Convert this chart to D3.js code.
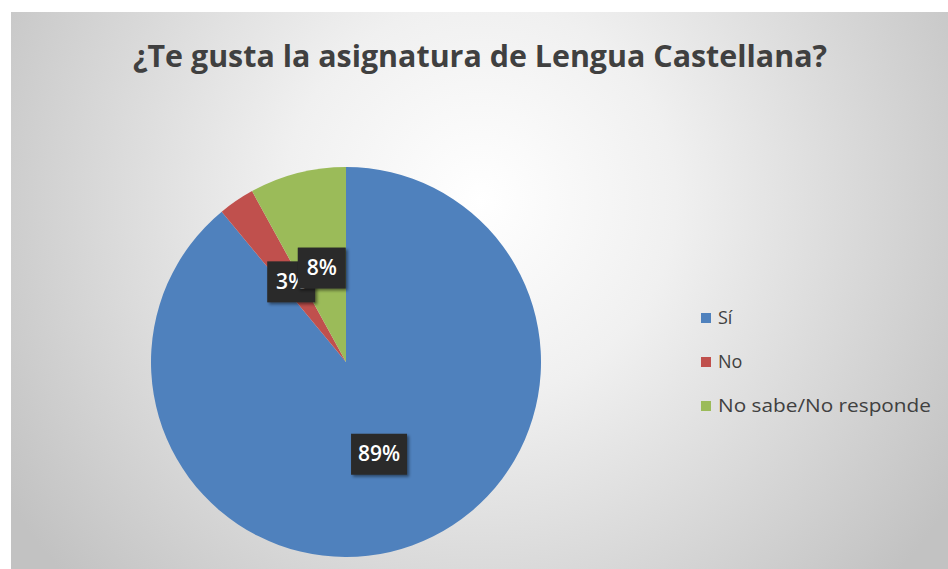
<!DOCTYPE html>
<html>
<head>
<meta charset="utf-8">
<script src="https://cdn.jsdelivr.net/npm/d3@7"></script>
<style>
  body { margin: 0; background: #fff; }
  text { font-family: "Open Sans", "DejaVu Sans", sans-serif; }
</style>
</head>
<body>
<script>
var categories = ["Sí", "No", "No sabe/No responde"];
var values = [89, 3, 8];
var colors = ["#4f81bd", "#c0504d", "#9bbb59"];
var title = "¿Te gusta la asignatura de Lengua Castellana?";

var width = 948, height = 569;
var area = {x: 11, y: 12};
var cx = 346, cy = 362, radius = 195;

var svg = d3.select("body").append("svg")
    .attr("width", width)
    .attr("height", height);

var defs = svg.append("defs");
var grad = defs.append("radialGradient")
    .attr("id", "bg")
    .attr("gradientUnits", "userSpaceOnUse")
    .attr("cx", 480).attr("cy", 200).attr("r", 560);
grad.append("stop").attr("offset", "0%").attr("stop-color", "#ffffff");
grad.append("stop").attr("offset", "35%").attr("stop-color", "#f0f0f0");
grad.append("stop").attr("offset", "100%").attr("stop-color", "#c2c2c2");

var shadow = defs.append("filter").attr("id", "shadow")
    .attr("x", "-30%").attr("y", "-30%").attr("width", "160%").attr("height", "160%");
shadow.append("feDropShadow")
    .attr("dx", 2).attr("dy", 2).attr("stdDeviation", 1.5)
    .attr("flood-color", "#000").attr("flood-opacity", 0.45);

svg.append("rect")
    .attr("x", area.x).attr("y", area.y)
    .attr("width", width - area.x).attr("height", height - area.y)
    .attr("fill", "url(#bg)");

svg.append("text")
    .attr("x", 480).attr("y", 67)
    .attr("text-anchor", "middle")
    .attr("font-size", 30)
    .attr("font-weight", 700)
    .attr("fill", "#404040")
    .attr("textLength", 694)
    .attr("lengthAdjust", "spacingAndGlyphs")
    .text(title);

var data = categories.map(function (c, i) {
    return {name: c, value: values[i], color: colors[i]};
});

var pie = d3.pie().sort(null).value(function (d) { return d.value; });
var arc = d3.arc().innerRadius(0).outerRadius(radius);
var arcs = pie(data);

var g = svg.append("g").attr("transform", "translate(" + cx + "," + cy + ")");

g.selectAll("path.slice")
    .data(arcs)
    .enter().append("path")
    .attr("class", "slice")
    .attr("d", arc)
    .attr("fill", function (d) { return d.data.color; });

var total = d3.sum(values);
var labels = g.selectAll("g.lbl")
    .data(arcs)
    .enter().append("g")
    .attr("class", "lbl")
    .attr("transform", function (d) {
        var c = arc.centroid(d);
        return "translate(" + c[0] + "," + c[1] + ")";
    });

labels.append("rect")
    .attr("x", function (d) { return d.data.value >= 10 ? -28 : -24; })
    .attr("y", -20)
    .attr("width", function (d) { return d.data.value >= 10 ? 56 : 48; })
    .attr("height", 41)
    .attr("fill", "#2a2a2a")
    .attr("filter", "url(#shadow)");

labels.append("text")
    .attr("text-anchor", "middle")
    .attr("dy", "0.35em")
    .attr("font-size", 21)
    .attr("font-weight", 600)
    .attr("fill", "#ffffff")
    .text(function (d) { return Math.round(d.data.value / total * 100) + "%"; });

var legend = svg.append("g").attr("transform", "translate(701,0)");
var ly = d3.scalePoint().domain(categories).range([318, 406]);

var item = legend.selectAll("g.item")
    .data(data)
    .enter().append("g")
    .attr("class", "item")
    .attr("transform", function (d) { return "translate(0," + ly(d.name) + ")"; });

item.append("rect")
    .attr("x", 0).attr("y", -5)
    .attr("width", 10).attr("height", 10)
    .attr("fill", function (d) { return d.color; });

item.append("text")
    .attr("x", 17)
    .attr("dy", "0.36em")
    .attr("font-size", 18)
    .attr("fill", "#404040")
    .each(function (d) {
        if (d.name.length > 5) {
            d3.select(this).attr("textLength", 213).attr("lengthAdjust", "spacingAndGlyphs");
        }
    })
    .text(function (d) { return d.name; });
</script>
</body>
</html>
